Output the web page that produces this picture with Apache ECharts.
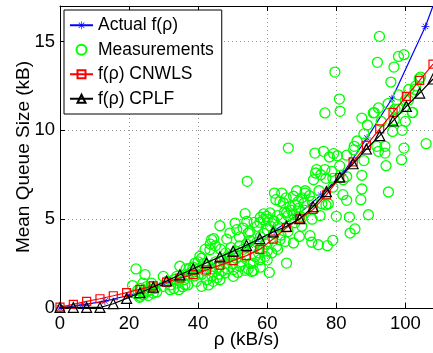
<!DOCTYPE html>
<html>
<head>
<meta charset="utf-8">
<script src="https://cdn.jsdelivr.net/npm/echarts@6/dist/echarts.min.js"></script>
<style>
html,body{margin:0;padding:0;background:#fff;}
#chart{width:433px;height:353px;}
</style>
</head>
<body>
<div id="chart"></div>
<script>
// ---- data ----
const xTicks = [0, 20, 40, 60, 80, 100];
const yTicks = [0, 5, 10, 15];

const actualRho = [0, 6.5, 13, 20, 27, 34, 41, 48, 55, 62, 68.5, 75.5, 82.1, 88.9, 96.1, 105.8, 108];
const actualQ   = [0, 0.18, 0.39, 0.72, 1.12, 1.6, 2.15, 2.8, 3.55, 4.35, 5.2, 6.35, 7.63, 9.57, 11.78, 15.85, 17.0];

const fitRho = [0, 3.86, 7.71, 11.57, 15.43, 19.29, 23.14, 27, 30.86, 34.71, 38.57, 42.43, 46.29, 50.14, 54,
                57.86, 61.71, 65.57, 69.43, 73.29, 77.14, 81, 84.86, 88.71, 92.57, 96.43, 100.29, 104.14, 108];
const cnwlsQ = [0.05, 0.2, 0.37, 0.52, 0.69, 0.87, 1.05, 1.24, 1.46, 1.69, 1.88, 2.14, 2.41, 2.67, 2.95,
                3.3, 3.88, 4.52, 5.02, 5.55, 6.37, 7.34, 8.22, 9.16, 10.08, 11.01, 11.91, 12.81, 13.73];
const cplfQ  = [0.03, 0.03, 0.03, 0.03, 0.24, 0.54, 0.86, 1.18, 1.52, 1.87, 2.21, 2.55, 2.88, 3.2, 3.53,
                3.91, 4.28, 4.6, 5.03, 5.7, 6.55, 7.36, 8.12, 8.95, 9.7, 10.53, 11.35, 12.1, 12.89];

const measRho = [92.5,91.9,79.6,98.0,99.6,96.7,95.8,80.9,81.1,76.7,87.4,90.7,92.2,102.1,99.1,96.3,99.6,98.9,106,91.7,
  94.1,92.2,94.1,94.4,95.1,89.3,85.2,87.4,87.4,87.1,82.0,81.9,83.0,83.8,84.0,85.4,80.0,79.0,77.4,74.8,
  72.9,72.4,75.3,73.8,76.3,79.2,80.3,74.3,75.5,76.7,73.4,78.7,66.1,54.2,71.0,72.2,67.6,69.0,64.2,62.1,
  63.7,64.7,70.7,75.8,77.7,66.6,65.6,67.6,69.5,70.0,69.3,67.6,65.2,65.6,60.6,60.8,59.8,58.9,57.9,56.2,
  54.1,53.6,50.7,51.2,49.2,46.3,48.3,54.5,61.8,63.2,63.7,62.7,61.3,59.4,57.9,56.0,55.5,53.6,52.1,50.2,
  50.2,47.8,46.3,44.4,42.5,41.0,43.9,43.4,40.5,39.1,37.6,34.7,33.8,36.2,34.4,31.9,29.9,29.9,26.5,25.1,
  24.1,23.2,24.6,22.0,21.0,27.0,102.8,100.9,104.4,98,96.8,
  22.5,23.5,24.2,25,26,25.5,27.5,28,24,22,26.5,23,
  31,32,33,34,35,36,37,38,39,36.5,38.5,33,35.5,39.5,37,40,40,41,
  41,42,43,44,45,46,47,48,49,50,42,43.5,44.5,45,46.5,48,49.5,44,46,47,41.5,45.5,48.5,50,43,
  51,52,53,54,55,56,57,58,59,60,51,52.5,53.5,55,56.5,57.5,58.5,59.5,60,52,53,55,57,58,59,60,54.5,56,58,60,51.5,
  61,62,63,64,65,66,67,68,69,70,62,64,66,68,70,62.5,65.5,68.5,71,63,
  71,73,75,77,79,73,77,79,74,78,
  81,83,85,86,88,89,83,88,
  91,93,95,97,98,100,101,103,104,102,100];
const measQ = [15.29,13.83,13.28,14.16,14.26,13.56,12.72,11.76,11.07,10.98,10.69,10.98,11.26,11.01,10.0,9.94,9.0,8.35,9.25,9.1,
  9.1,8.82,8.72,8.01,6.53,5.25,9.1,7.47,6.7,6.1,7.22,6.38,6.06,5.12,4.22,4.45,5.16,3.81,3.51,3.56,
  3.70,4.07,5.2,8.72,8.82,8.69,8.57,7.79,7.5,7.79,7.22,7.69,9.0,7.13,6.47,6.32,6.29,6.0,6.47,6.47,
  6.0,5.91,5.91,5.87,5.87,5.72,5.35,5.25,5.16,4.6,4.03,3.66,3.75,2.53,2.0,5.35,5.16,4.97,4.82,4.82,
  4.88,5.31,4.78,4.41,4.22,4.63,3.88,4.22,4.88,4.60,3.85,3.47,3.10,2.91,2.72,2.53,2.06,2.12,2.35,2.16,
  1.78,1.97,1.59,1.5,1.59,1.22,3.85,3.28,2.91,2.53,2.25,2.35,1.78,1.31,1.03,1.03,1.22,1.78,1.22,0.94,
  0.75,0.66,1.88,2.2,1.26,0.84,12.3,11.7,13.0,11.2,10.6,
  1.0,1.1,0.9,1.2,1.0,0.7,1.1,0.9,1.4,0.8,1.4,0.6,
  1.5,1.3,1.6,1.4,1.7,1.6,1.9,2.0,1.8,2.2,2.3,1.1,1.2,1.5,1.3,2.2,2.6,2.8,
  1.9,2.1,2.4,2.2,2.6,2.3,2.7,2.5,2.9,3.0,3.3,3.6,3.9,3.5,3.3,3.1,3.4,1.8,1.9,2.1,2.5,1.7,2.2,2.5,1.3,
  3.2,3.5,3.3,3.6,3.8,3.4,3.7,4.0,4.2,4.4,2.8,2.6,2.9,2.5,2.9,3.1,3.3,3.6,3.2,4.0,4.5,4.3,4.6,5.1,5.3,5.0,2.2,2.1,2.3,2.7,2.0,
  4.6,4.9,5.2,5.0,5.4,5.2,5.5,5.8,5.6,6.2,4.2,4.1,4.3,4.8,5.1,6.1,6.2,6.6,6.6,3.3,
  5.5,6.0,6.6,7.3,7.3,5.0,5.8,6.8,7.6,8.5,
  8.0,8.6,8.9,9.4,9.8,10.3,7.4,8.3,
  11.0,10.5,11.5,11.2,12.0,11.7,12.3,12.5,12.9,11.0,10.5];

// ---- build ----
const FONT = '"Liberation Sans", Arial, sans-serif';
const zip = (a, b) => a.map((v, i) => [v, b[i]]);
const asterisk = 'path://M9.2,0h1.6v20h-1.6z M0,9.2h20v1.6h-20z M2.4,3.5L3.5,2.4L17.6,16.5L16.5,17.6z M16.5,2.4L17.6,3.5L3.5,17.6L2.4,16.5z';

const actualData = zip(actualRho, actualQ).map((p, i, arr) =>
  i === arr.length - 1 ? { value: p, symbol: 'none' } : p);

const chart = echarts.init(document.getElementById('chart'), null, { renderer: 'canvas' });
const gridLine = { show: true, lineStyle: { color: '#9a9a9a', width: 1, type: [1, 3] } };

chart.setOption({
  animation: false,
  backgroundColor: '#fff',
  grid: { left: 60, top: 6, right: 0, bottom: 45, containLabel: false, outerBoundsMode: 'none' },
  legend: {
    orient: 'vertical',
    left: 64, top: 10,
    width: 161,
    padding: [6, 8, 6, 5],
    itemGap: 6,
    itemWidth: 23,
    itemHeight: 10,
    backgroundColor: '#fff',
    borderColor: '#000',
    borderWidth: 1,
    borderRadius: 0,
    textStyle: { fontFamily: FONT, fontSize: 17.5, color: '#000', lineHeight: 18.5 },
    data: ['Actual f(ρ)', 'Measurements', 'f(ρ) CNWLS', 'f(ρ) CPLF']
  },
  xAxis: [{
    type: 'value', min: 0, max: 108, interval: 20,
    name: 'ρ (kB/s)', nameLocation: 'middle', nameGap: 22, nameMoveOverlap: false,
    nameTextStyle: { fontFamily: FONT, fontSize: 19, color: '#000' },
    axisLine: { show: true, onZero: false, lineStyle: { color: '#000', width: 1 } },
    axisTick: { show: true, inside: true, length: 5, lineStyle: { color: '#000' } },
    axisLabel: { fontFamily: FONT, fontSize: 18.5, color: '#000', margin: 6,
      formatter: v => (xTicks.indexOf(v) >= 0 ? String(v) : '') },
    splitLine: gridLine
  }, {
    type: 'value', min: 0, max: 108, interval: 20, position: 'top',
    axisLine: { show: true, onZero: false, lineStyle: { color: '#000', width: 1 } },
    axisTick: { show: true, inside: true, length: 5, lineStyle: { color: '#000' } },
    axisLabel: { show: false }, splitLine: { show: false }
  }],
  yAxis: [{
    type: 'value', min: 0, max: 17, interval: 5,
    name: 'Mean Queue Size (kB)', nameLocation: 'middle', nameGap: 27, nameMoveOverlap: false,
    nameTextStyle: { fontFamily: FONT, fontSize: 19, color: '#000' },
    axisLine: { show: true, onZero: false, lineStyle: { color: '#000', width: 1 } },
    axisTick: { show: true, inside: true, length: 5, lineStyle: { color: '#000' } },
    axisLabel: { fontFamily: FONT, fontSize: 18.5, color: '#000', margin: 5,
      formatter: v => (yTicks.indexOf(v) >= 0 ? String(v) : '') },
    splitLine: gridLine
  }],
  series: [{
    name: 'Actual f(ρ)', type: 'line', data: actualData,
    symbol: asterisk, symbolSize: 8, showAllSymbol: true,
    itemStyle: { color: '#0000ff', borderWidth: 0 },
    lineStyle: { color: '#0000ff', width: 1.2 },
    z: 2
  }, {
    name: 'Measurements', type: 'scatter', data: zip(measRho, measQ),
    symbol: 'circle', symbolSize: 10,
    itemStyle: { color: 'rgba(0,0,0,0)', borderColor: '#00ff00', borderWidth: 1.3, opacity: 1 },
    z: 3
  }, {
    name: 'f(ρ) CNWLS', type: 'line', data: zip(fitRho, cnwlsQ),
    symbol: 'rect', symbolSize: 8, showAllSymbol: true,
    itemStyle: { color: 'rgba(0,0,0,0)', borderColor: '#ff0000', borderWidth: 1.2 },
    lineStyle: { color: '#ff0000', width: 1.2 },
    z: 4
  }, {
    name: 'f(ρ) CPLF', type: 'line', data: zip(fitRho, cplfQ),
    symbol: 'triangle', symbolSize: 10, showAllSymbol: true,
    itemStyle: { color: 'rgba(0,0,0,0)', borderColor: '#000', borderWidth: 1.2 },
    lineStyle: { color: '#000', width: 1.2 },
    z: 5
  }]
});
</script>
</body>
</html>
